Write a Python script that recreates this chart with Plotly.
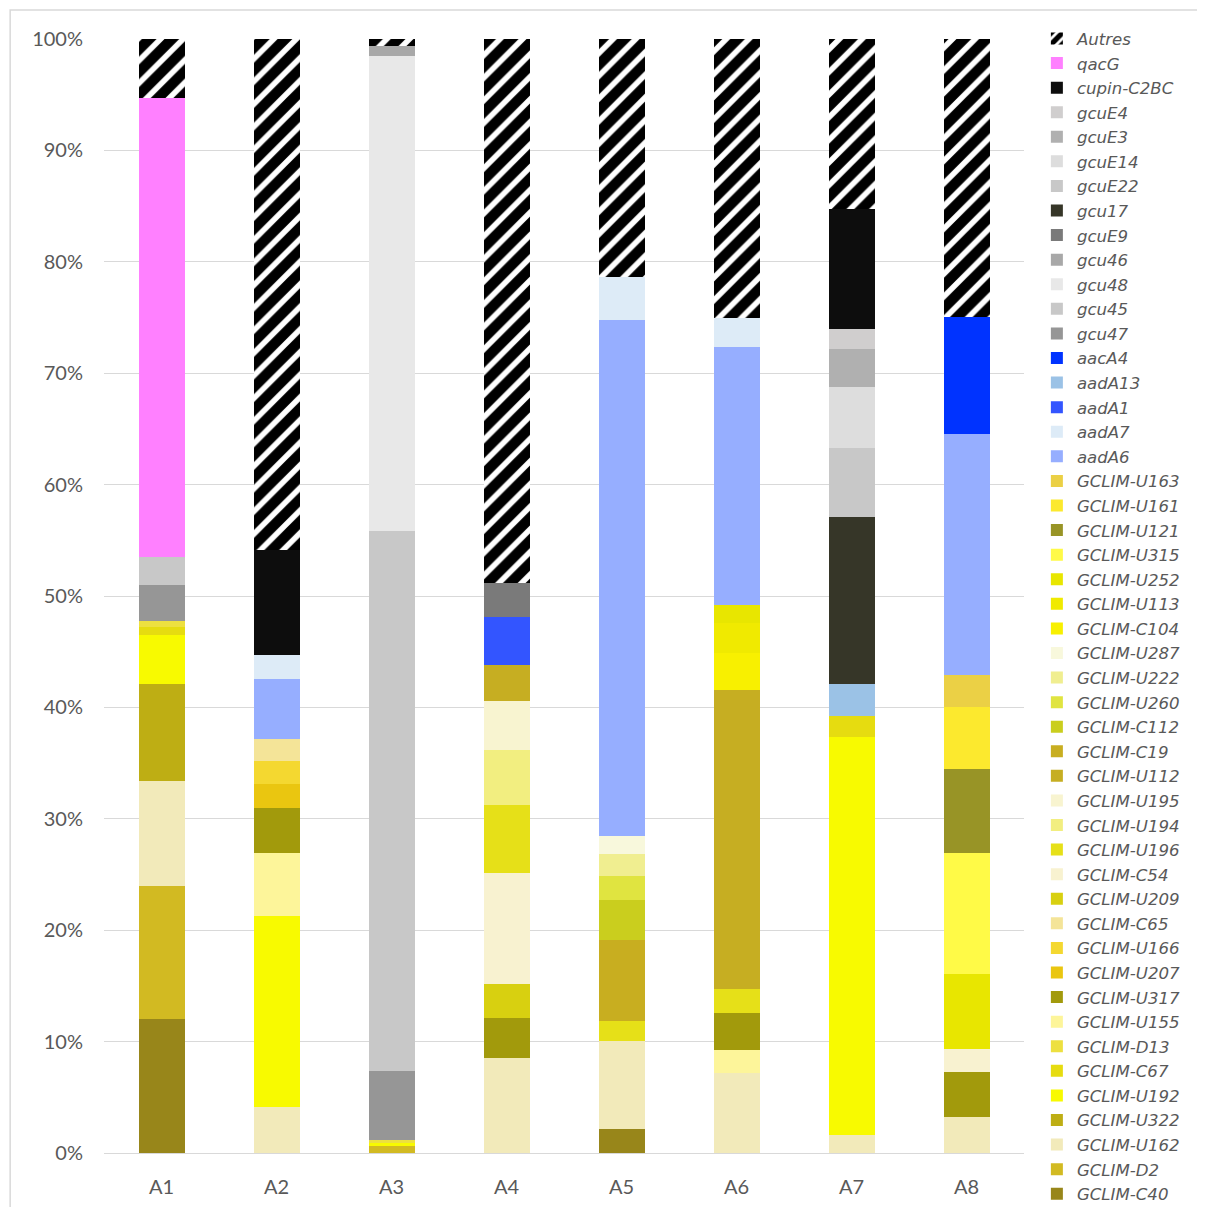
import plotly.graph_objects as go

echantillons = ['A1', 'A2', 'A3', 'A4', 'A5', 'A6', 'A7', 'A8']

# ordre d'empilement, du bas vers le haut
genes = [
    'GCLIM-C40', 'GCLIM-D2', 'GCLIM-U162', 'GCLIM-U322', 'GCLIM-U192',
    'GCLIM-C67', 'GCLIM-D13', 'GCLIM-U155', 'GCLIM-U317', 'GCLIM-U207',
    'GCLIM-U166', 'GCLIM-C65', 'GCLIM-U209', 'GCLIM-C54', 'GCLIM-U196',
    'GCLIM-U194', 'GCLIM-U195', 'GCLIM-U112', 'GCLIM-C19', 'GCLIM-C112',
    'GCLIM-U260', 'GCLIM-U222', 'GCLIM-U287', 'GCLIM-C104', 'GCLIM-U113',
    'GCLIM-U252', 'GCLIM-U315', 'GCLIM-U121', 'GCLIM-U161', 'GCLIM-U163',
    'aadA6', 'aadA7', 'aadA1', 'aadA13', 'aacA4',
    'gcu47', 'gcu45', 'gcu48', 'gcu46', 'gcuE9',
    'gcu17', 'gcuE22', 'gcuE14', 'gcuE3', 'gcuE4',
    'cupin-C2BC', 'qacG', 'Autres',
]

couleurs = [
    '#98861A', '#D2BA22', '#F2EABA', '#BEAE14', '#F8FA00',
    '#E6DC10', '#EDE040', '#FDF59A', '#A29A0C', '#EAC610',
    '#F4D830', '#F4E498', '#D8D010', '#F8F2D0', '#E6E018',
    '#F2EE80', '#F8F4D0', '#C6AE22', '#C8AE20', '#CACE1E',
    '#E0E440', '#F0EE90', '#F8F8DC', '#F8F000', '#F0EA00',
    '#E8E600', '#FFFA47', '#989426', '#FCE92E', '#EBD045',
    '#96AEFF', '#DDEBF7', '#3355FF', '#9BC2E6', '#0033FF',
    '#969696', '#C8C8C8', '#E8E8E8', '#A8A8A8', '#7A7A7A',
    '#363628', '#C8C8C8', '#DDDDDD', '#B0B0B0', '#D0CECE',
    '#0D0D0D', '#FF80FF', '#FFFFFF',
]

# pourcentages par échantillon (même ordre que genes, 10 par ligne)
A1 = [12, 12, 9.4, 8.7, 4.36, 0.76, 0.54, 0, 0, 0,
      0, 0, 0, 0, 0, 0, 0, 0, 0, 0,
      0, 0, 0, 0, 0, 0, 0, 0, 0, 0,
      0, 0, 0, 0, 0, 3.2, 2.52, 0, 0, 0,
      0, 0, 0, 0, 0, 0, 41.2, 5.32]
A2 = [0, 0, 4.14, 0, 17.1, 0, 0, 5.73, 3.96, 2.2,
      2.09, 1.91, 0, 0, 0, 0, 0, 0, 0, 0,
      0, 0, 0, 0, 0, 0, 0, 0, 0, 0,
      5.41, 2.12, 0, 0, 0, 0, 0, 0, 0, 0,
      0, 0, 0, 0, 0, 9.45, 0, 45.89]
A3 = [0, 0.65, 0, 0, 0.25, 0, 0.3, 0, 0, 0,
      0, 0, 0, 0, 0, 0, 0, 0, 0, 0,
      0, 0, 0, 0, 0, 0, 0, 0, 0, 0,
      0, 0, 0, 0, 0, 6.16, 48.5, 42.6, 0.9, 0,
      0, 0, 0, 0, 0, 0, 0, 0.64]
A4 = [0, 0, 8.57, 0, 0, 0, 0, 0, 3.58, 0,
      0, 0, 3.0, 10.02, 6.04, 4.96, 4.38, 3.28, 0, 0,
      0, 0, 0, 0, 0, 0, 0, 0, 0, 0,
      0, 0, 4.25, 0, 0, 0, 0, 0, 0, 3.13,
      0, 0, 0, 0, 0, 0, 0, 48.79]
A5 = [2.16, 0, 7.86, 0, 0, 0, 0, 0, 0, 0,
      0, 0, 0, 0, 1.86, 0, 0, 0, 7.25, 3.58,
      2.16, 1.96, 1.59, 0, 0, 0, 0, 0, 0, 0,
      46.4, 3.8, 0, 0, 0, 0, 0, 0, 0, 0,
      0, 0, 0, 0, 0, 0, 0, 21.38]
A6 = [0, 0, 7.14, 0, 0, 0, 0, 2.1, 3.32, 0,
      0, 0, 0, 0, 2.16, 0, 0, 26.81, 0, 0,
      0, 0, 0, 3.33, 2.69, 1.61, 0, 0, 0, 0,
      23.18, 2.6, 0, 0, 0, 0, 0, 0, 0, 0,
      0, 0, 0, 0, 0, 0, 0, 25.06]
A7 = [0, 0, 1.6, 0, 35.78, 1.82, 0, 0, 0, 0,
      0, 0, 0, 0, 0, 0, 0, 0, 0, 0,
      0, 0, 0, 0, 0, 0, 0, 0, 0, 0,
      0, 0, 0, 2.86, 0, 0, 0, 0, 0, 0,
      15.0, 6.19, 5.51, 3.42, 1.82, 10.72, 0, 15.28]
A8 = [0, 0, 3.2, 0, 0, 0, 0, 0, 4.09, 0,
      0, 0, 0, 2.06, 0, 0, 0, 0, 0, 0,
      0, 0, 0, 0, 0, 6.75, 10.83, 7.54, 5.56, 2.9,
      21.62, 0, 0, 0, 10.54, 0, 0, 0, 0, 0,
      0, 0, 0, 0, 0, 0, 0, 24.91]

barres = [A1, A2, A3, A4, A5, A6, A7, A8]

fig = go.Figure()

for i, nom in enumerate(genes):
    valeurs = [b[i] for b in barres]
    marker = dict(color=couleurs[i], line=dict(width=0))
    if nom == 'Autres':
        marker['pattern'] = dict(shape='/', fgcolor='#000000', bgcolor='#FFFFFF',
                                 fgopacity=1, size=16, solidity=0.65)
    fig.add_trace(go.Bar(x=echantillons, y=valeurs, name=nom, marker=marker))

# la page ajoute 8 px de marge autour de la figure
fig.update_layout(
    width=1197, height=1199,
    barmode='stack',
    bargap=0.6,
    plot_bgcolor='white',
    paper_bgcolor='white',
    margin=dict(l=96, r=181, t=31, b=54, autoexpand=False),
    font=dict(family='Lato, Open Sans, sans-serif', size=20, color='#595959'),
    legend=dict(
        traceorder='reversed',
        x=1.014, xanchor='left',
        y=1.016, yanchor='top',
        font=dict(family='DejaVu Sans', size=16.6, color='#595959', style='italic'),
        itemwidth=30,
        tracegroupgap=0,
        maxheight=1,
    ),
    xaxis=dict(showline=True, linecolor='#D9D9D9', linewidth=1, ticks='',
               ticklabelstandoff=16),
    yaxis=dict(range=[0, 100], dtick=10, ticksuffix='%', showgrid=True,
               gridcolor='#D9D9D9', gridwidth=1, zeroline=False, ticklen=0,
               ticklabelstandoff=20),
    shapes=[dict(type='rect', xref='paper', yref='paper',
                 x0=-0.102, x1=1.3, y0=-0.1, y1=1.026,
                 line=dict(color='#D9D9D9', width=1.5))],
)

fig.write_html("out.html")
